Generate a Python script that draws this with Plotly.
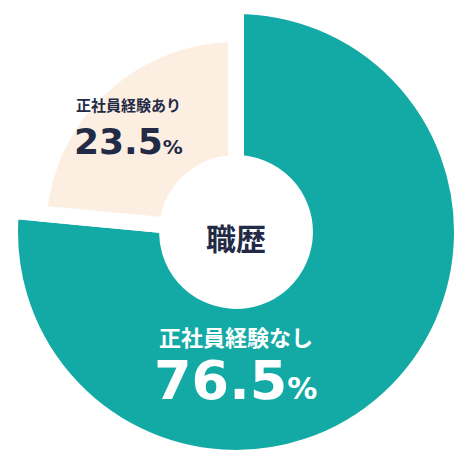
import plotly.graph_objects as go

# 職歴 (work history) breakdown
labels = ['正社員経験なし', '正社員経験あり']
values = [76.5, 23.5]
center_title = '職歴'

teal = '#13aaa5'
peach = '#fdeee2'
ink = '#222a45'
clear = 'rgba(0,0,0,0)'

fig = go.Figure()

# outer teal ring (peach slot left clear)
fig.add_trace(go.Pie(
    labels=labels, values=values, sort=False, direction='clockwise', rotation=0,
    hole=0.305, textinfo='none', hoverinfo='label+percent',
    marker=dict(colors=[teal, clear], line=dict(color='white', width=[16, 0])),
    domain=dict(x=[0.0214, 0.9872], y=[0.0214, 0.9872]),
))
# smaller peach slice on top
fig.add_trace(go.Pie(
    labels=labels, values=values, sort=False, direction='clockwise', rotation=0,
    hole=0.348, textinfo='none', hoverinfo='label+percent',
    marker=dict(colors=[clear, peach], line=dict(color='white', width=[0, 16])),
    domain=dict(x=[0.0812, 0.9274], y=[0.0812, 0.9274]),
))

jp = 'Noto Sans CJK JP, sans-serif'
num = 'DejaVu Sans, sans-serif'
annos = [
    dict(x=128, y=468 - 104, text=labels[1], font=dict(family=jp, size=15, color=ink, weight=700)),
    dict(x=128, y=468 - 141,
         text=f"{values[1]}<span style='font-size:20px'>%</span>",
         font=dict(family=num, size=36, color=ink, weight=700)),
    dict(x=236, y=468 - 237, text=center_title, font=dict(family=jp, size=30, color=ink, weight=700)),
    dict(x=236, y=468 - 336, text=labels[0], font=dict(family=jp, size=22, color='white', weight=700)),
    dict(x=235, y=468 - 380,
         text=f"{values[0]}<span style='font-size:30px'>%</span>",
         font=dict(family=num, size=54, color='white', weight=700)),
]
for a in annos:
    fig.add_annotation(xref='x', yref='y', showarrow=False, **a)

fig.update_xaxes(range=[0, 468], visible=False)
fig.update_yaxes(range=[0, 468], visible=False)
fig.update_layout(
    width=468, height=468, showlegend=False,
    margin=dict(l=0, r=0, t=0, b=0),
    paper_bgcolor='white', plot_bgcolor='white',
)
fig.write_html('out.html', config={'displayModeBar': False},
               post_script="document.body.style.margin='0';")
